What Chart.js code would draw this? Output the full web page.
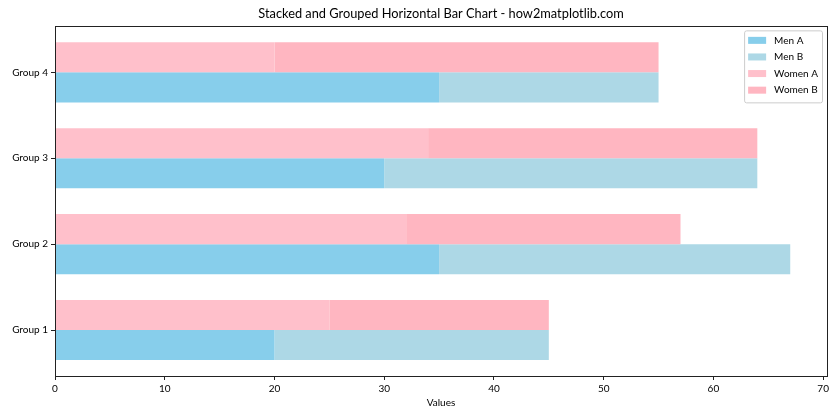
<!DOCTYPE html>
<html>
<head>
<meta charset="utf-8">
<script src="https://cdn.jsdelivr.net/npm/chart.js@4.4.1/dist/chart.umd.min.js"></script>
<style>
  html, body { margin: 0; padding: 0; background: #fff; }
  #wrap { width: 840px; height: 420px; position: relative; }
</style>
</head>
<body>
<div id="wrap"><canvas id="chart"></canvas></div>
<script>
// Daten
const groups = ['Group 1', 'Group 2', 'Group 3', 'Group 4'];
const menA = [20, 35, 30, 35];
const menB = [25, 32, 34, 20];
const womenA = [25, 32, 34, 20];
const womenB = [20, 25, 30, 35];
const xTicks = [0, 10, 20, 30, 40, 50, 60, 70];
const legendOrder = ['Men A', 'Men B', 'Women A', 'Women B'];

const FONT = 'Lato';
Chart.defaults.font.family = FONT;
Chart.defaults.color = '#000';

// Werte -> Punkte auf der linearen y-Achse
const toPoints = arr => arr.map((v, i) => ({ x: v, y: i }));

// Titel über dem Achsenbereich zentrieren (wie matplotlib)
const titleCenterPlugin = {
    id: 'titleCenter',
    afterLayout(chart) {
        const t = chart.titleBlock;
        if (!t) return;
        t.left = chart.chartArea.left;
        t.right = chart.chartArea.right;
        t.width = t.right - t.left;
    }
};

// Rahmen um die Achsen
const framePlugin = {
    id: 'frame',
    afterDraw(chart) {
        const { ctx, chartArea: a } = chart;
        ctx.save();
        ctx.strokeStyle = '#222';
        ctx.lineWidth = 1;
        ctx.strokeRect(Math.round(a.left) + 0.5, Math.round(a.top) + 0.5,
            Math.round(a.right - a.left), Math.round(a.bottom - a.top));
        ctx.restore();
    }
};

// Legende oben rechts im Diagrammbereich
const legendPlugin = {
    id: 'innerLegend',
    afterDraw(chart) {
        const { ctx, chartArea: a } = chart;
        const items = legendOrder.map(l => chart.data.datasets.find(d => d.label === l));
        ctx.save();
        ctx.font = `10px ${FONT}`;
        const textW = Math.max(...items.map(d => ctx.measureText(d.label).width));
        const pad = 4, handleW = 18, handleH = 7, gap = 8, rowH = 16.6;
        const w = pad + handleW + gap + textW + pad;
        const h = 72;
        const right = a.right - 5, top = a.top + 4;
        const left = right - w;
        ctx.beginPath();
        ctx.roundRect(left + 0.5, top + 0.5, w, h, 2);
        ctx.fillStyle = 'rgba(255,255,255,0.8)';
        ctx.fill();
        ctx.strokeStyle = '#cccccc';
        ctx.lineWidth = 1;
        ctx.stroke();
        ctx.textBaseline = 'middle';
        ctx.textAlign = 'left';
        items.forEach((d, i) => {
            const cy = top + 10 + i * rowH;
            ctx.fillStyle = d.backgroundColor;
            ctx.fillRect(left + pad, cy - handleH / 2, handleW, handleH);
            ctx.fillStyle = '#000';
            ctx.fillText(d.label, left + pad + handleW + gap, cy);
        });
        ctx.restore();
    }
};

const axisGrid = { display: true, drawOnChartArea: false, drawTicks: true, tickLength: 4, color: '#222', offset: false };

new Chart(document.getElementById('chart'), {
    type: 'bar',
    data: {
        datasets: [
            { label: 'Women A', data: toPoints(womenA), backgroundColor: '#FFC0CB', stack: 'women' },
            { label: 'Women B', data: toPoints(womenB), backgroundColor: '#FFB6C1', stack: 'women' },
            { label: 'Men A', data: toPoints(menA), backgroundColor: '#87CEEB', stack: 'men' },
            { label: 'Men B', data: toPoints(menB), backgroundColor: '#ADD8E6', stack: 'men' }
        ]
    },
    options: {
        indexAxis: 'y',
        responsive: true,
        maintainAspectRatio: false,
        animation: false,
        datasets: { bar: { categoryPercentage: 0.7, barPercentage: 1.0, borderWidth: 0 } },
        layout: { padding: { left: 0, right: 13, top: 0, bottom: 0 } },
        plugins: {
            legend: { display: false },
            tooltip: { enabled: false },
            title: {
                display: true,
                text: 'Stacked and Grouped Horizontal Bar Chart - how2matplotlib.com',
                font: { size: 12.8, weight: 'normal' },
                color: '#000',
                padding: { top: 6, bottom: 5 }
            }
        },
        scales: {
            x: {
                type: 'linear',
                stacked: true,
                min: 0,
                max: 70.35,
                offset: false,
                afterBuildTicks: axis => { axis.ticks = xTicks.map(v => ({ value: v })); },
                afterFit: axis => { axis.height = 44; },
                ticks: { font: { size: 10 }, padding: 3, maxRotation: 0 },
                grid: axisGrid,
                border: { display: false },
                title: { display: true, text: 'Values', font: { size: 10 }, padding: { top: 0, bottom: 11 } }
            },
            y: {
                type: 'linear',
                min: -0.535,
                max: groups.length - 1 + 0.535,
                offset: false,
                afterBuildTicks: axis => { axis.ticks = groups.map((g, i) => ({ value: i })); },
                afterFit: axis => { axis.width = 55; },
                ticks: { font: { size: 10 }, padding: 3, callback: v => groups[v] },
                grid: axisGrid,
                border: { display: false }
            }
        }
    },
    plugins: [titleCenterPlugin, framePlugin, legendPlugin]
});
</script>
</body>
</html>
